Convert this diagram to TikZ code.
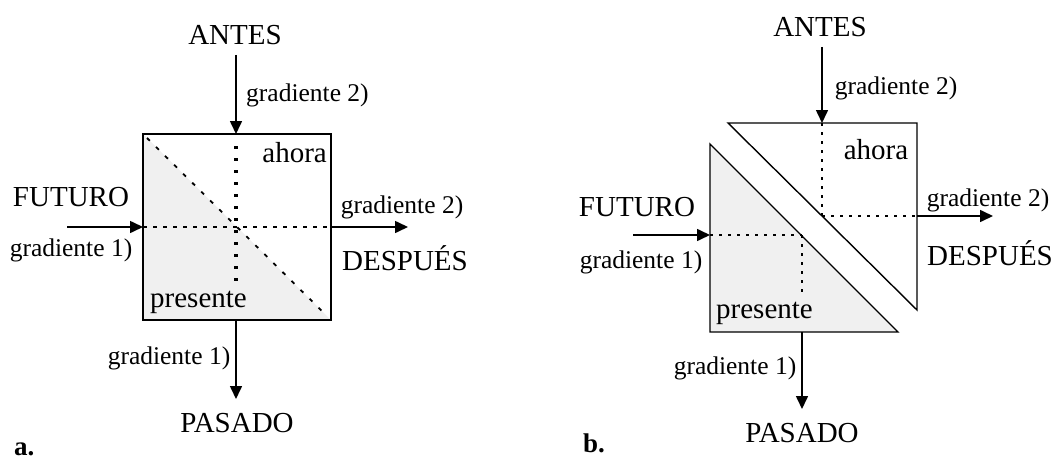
\documentclass[tikz,border=0pt]{standalone}
\usepackage{fontspec}
\setmainfont{Liberation Serif}
\usetikzlibrary{arrows.meta,calc}
\definecolor{paleshade}{HTML}{F0F0F0}
\tikzset{
  big/.style={font=\fontsize{29}{30}\selectfont, inner sep=0pt},
  small/.style={font=\fontsize{25.5}{27}\selectfont, inner sep=0pt},
  panel/.style={font=\fontsize{27}{28}\selectfont\bfseries, inner sep=0pt},
  arr/.style={line width=1.6pt, -{Triangle[length=13pt,width=12pt]}},
  edge/.style={line width=1.4pt},
  vdots/.style={line width=3.2pt, dash pattern=on 3pt off 9pt},
  hdots/.style={line width=2pt, dash pattern=on 4pt off 6pt},
  ddots/.style={line width=1.8pt, dash pattern=on 4pt off 8.7pt},
  thindots/.style={line width=2pt, dash pattern=on 3pt off 6pt},
}
\begin{document}
\begin{tikzpicture}[x=1pt, y=-1pt]
\useasboundingbox (0,0) rectangle (1055,460);
% ---------------- panel a ----------------
\coordinate (aTL) at (143,134);
\coordinate (aTR) at (331,134);
\coordinate (aBL) at (143,320);
\coordinate (aBR) at (331,320);
\coordinate (aT) at (236,134);
\coordinate (aB) at (236,320);
\coordinate (aL) at (143,227);
\coordinate (aR) at (331,227);
\coordinate (aC) at (236,227);
\fill[paleshade] (aTL) -- (aBR) -- (aBL) -- cycle;
\draw[ddots] ($(aTL)+(4,4)$) -- ($(aBR)+(-4,-4)$);
\draw[vdots] (236,146) -- (236,288);
\draw[hdots] (aL) -- (aR);
\draw[edge] (aTL) rectangle (aBR);

\node[big] (antesA) at (235,35) {ANTES};
\coordinate (antesAs) at (236,55);
\draw[arr] (antesAs) -- (aT);
\node[small, anchor=west] (g2aT) at (246,95) {gradiente 2)};
\node[big, anchor=east] (ahoraA) at (327,153) {ahora};

\node[big] (futA) at (71,197) {FUTURO};
\coordinate (futAs) at (67,227);
\draw[arr] (futAs) -- (aL);
\node[small] (g1aL) at (71,250) {gradiente 1)};

\coordinate (despAe) at (408,227);
\draw[arr] (aR) -- (despAe);
\node[small] (g2aR) at (402,207) {gradiente 2)};
\node[big] (despA) at (405,258) {DESPUÉS};

\node[big, anchor=west] (presA) at (150,302) {presente};

\coordinate (pasAe) at (236,399);
\draw[arr] (aB) -- (pasAe);
\node[small] (g1aB) at (169,358) {gradiente 1)};
\node[big] (pasA) at (237,423) {PASADO};
\node[panel, anchor=base west] (labA) at (14,455) {a.};

% ---------------- panel b ----------------
\coordinate (uTL) at (728,123);
\coordinate (uTR) at (917,123);
\coordinate (uBR) at (917,310);
\coordinate (uT) at (822,123);
\coordinate (uC) at (822,216);
\coordinate (uR) at (917,216);
\coordinate (lT) at (710,144);
\coordinate (lBL) at (710,332);
\coordinate (lBR) at (898,332);
\coordinate (lL) at (710,235);
\coordinate (lC) at (802,235);
\coordinate (lB) at (802,332);

\fill[paleshade] (lT) -- (lBR) -- (lBL) -- cycle;
\draw[thindots] (uT) -- (uC);
\draw[thindots] (uC) -- (uR);
\draw[thindots] (lL) -- (lC);
\draw[thindots] (lC) -- (802,292);
\draw[edge] (uTL) -- (uTR) -- (uBR) -- cycle;
\draw[edge] (lT) -- (lBR) -- (lBL) -- cycle;

\node[big] (antesB) at (820,27) {ANTES};
\coordinate (antesBs) at (822,47);
\draw[arr] (antesBs) -- (uT);
\node[small] (g2bT) at (896,88) {gradiente 2)};
\node[big] (ahoraB) at (876,150) {ahora};

\node[big] (futB) at (637,207) {FUTURO};
\coordinate (futBs) at (633,235);
\draw[arr] (futBs) -- (lL);
\node[small] (g1bL) at (641,262) {gradiente 1)};

\coordinate (despBe) at (993,216);
\draw[arr] (uR) -- (despBe);
\node[small] (g2bR) at (988,200) {gradiente 2)};
\node[big] (despB) at (990,253) {DESPUÉS};

\node[big, anchor=west] (presB) at (716,313) {presente};

\coordinate (pasBe) at (802,409);
\draw[arr] (lB) -- (pasBe);
\node[small] (g1bB) at (735,368) {gradiente 1)};
\node[big] (pasB) at (802,433) {PASADO};
\node[panel, anchor=base west] (labB) at (583,452) {b.};
\end{tikzpicture}
\end{document}
